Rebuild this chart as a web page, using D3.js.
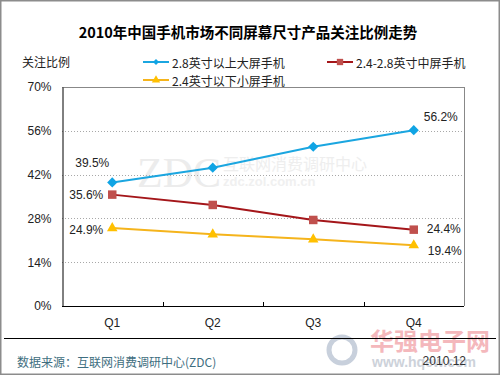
<!DOCTYPE html>
<html><head><meta charset="utf-8">
<script src="https://cdn.jsdelivr.net/npm/d3@7"></script>
<style>body{margin:0;background:#fff}svg{display:block}</style>
</head><body>
<script>
const categories = ["Q1","Q2","Q3","Q4"];
const bigScreen = [39.5, 44.2, 50.9, 56.2];
const midScreen = [35.6, 32.3, 27.5, 24.4];
const smallScreen = [24.9, 22.9, 21.3, 19.4];
const seriesNames = ["2.8英寸以上大屏手机","2.4-2.8英寸中屏手机","2.4英寸以下小屏手机"];
const yTicks = [0,14,28,42,56,70];
const title = "2010年中国手机市场不同屏幕尺寸产品关注比例走势";

const W=500,H=375;
const svg=d3.select("body").append("svg").attr("width",W).attr("height",H);
const cjk="'Noto Sans CJK SC','Liberation Sans',sans-serif";
const lat="'Liberation Sans',Arial,sans-serif";

svg.append("rect").attr("x",0.5).attr("y",0.5).attr("width",W-1).attr("height",H-1).attr("fill","#fff").attr("stroke","#8c8c8c").attr("stroke-width",2);

// watermarks
svg.append("text").attr("x",137).attr("y",187).attr("font-family","'Liberation Serif',serif").attr("font-size",42).attr("fill","#ececec").text("ZDC");
svg.append("text").attr("x",223).attr("y",170).attr("font-family",cjk).attr("font-size",16).attr("fill","#eeeeee").text("互联网消费调研中心");
svg.append("text").attr("x",223).attr("y",186).attr("font-family",lat).attr("font-size",13).attr("font-weight","bold").attr("fill","#f0f0f0").text("zdc.zol.com.cn");

const x0=62,x1=464,y0=87,y1=306;
const x=d3.scaleBand().domain(categories).range([x0,x1]);
const y=d3.scaleLinear().domain([0,70]).range([y1,y0]);

// gridlines
svg.append("g").selectAll("line").data(yTicks.filter(d=>d>0&&d<70)).join("line")
 .attr("x1",x0).attr("x2",x1).attr("y1",d=>Math.round(y(d))+0.5).attr("y2",d=>Math.round(y(d))+0.5)
 .attr("stroke","#a8a8a8").attr("stroke-dasharray","1,2");

// frame
svg.append("line").attr("x1",x0).attr("x2",x1).attr("y1",y0+0.5).attr("y2",y0+0.5).attr("stroke","#888");
svg.append("line").attr("x1",x1+0.5).attr("x2",x1+0.5).attr("y1",y0).attr("y2",y1).attr("stroke","#888");

// axes
const ya=svg.append("g").attr("transform",`translate(${x0+0.5},0)`)
 .call(d3.axisLeft(y).tickValues(yTicks).tickSize(0).tickPadding(11).tickFormat(d=>d+"%"));
ya.select(".domain").attr("stroke","#000");
ya.selectAll("text").attr("font-family",lat).attr("font-size",12).attr("fill","#222");
const xa=svg.append("g").attr("transform",`translate(0,${y1+0.5})`)
 .call(d3.axisBottom(x).tickSize(0).tickPadding(12));
xa.select(".domain").attr("stroke","#000").attr("d",`M${x0},0H${x1}`);
xa.selectAll("text").attr("font-family",lat).attr("font-size",12).attr("fill","#222");
svg.append("g").selectAll("line").data(categories.slice(1)).join("line")
 .attr("x1",d=>Math.round(x(d))+0.5).attr("x2",d=>Math.round(x(d))+0.5)
 .attr("y1",y1).attr("y2",y1-4).attr("stroke","#000");

const cx=d=>x(d)+x.bandwidth()/2;
const series=[
 {vals:bigScreen,line:"#1ba6e0",mark:"#10a4e4",shape:d3.symbolSquare,size:52,rot:45},
 {vals:midScreen,line:"#a4161a",mark:"#c0504d",shape:d3.symbolSquare,size:72,rot:0},
 {vals:smallScreen,line:"#f5b41c",mark:"#ffc000",shape:d3.symbolTriangle,size:48,rot:0}
];
const line=d3.line().x((d,i)=>cx(categories[i])).y(d=>y(d));
series.forEach(s=>{
 svg.append("path").attr("d",line(s.vals)).attr("fill","none").attr("stroke",s.line).attr("stroke-width",2);
 svg.append("g").selectAll("path").data(s.vals).join("path")
  .attr("transform",(d,i)=>`translate(${cx(categories[i])},${y(d)}) rotate(${s.rot})`)
  .attr("d",d3.symbol(s.shape,s.size)).attr("fill",s.mark);
});

// data labels
const lbl=(tx,ty,t,anchor)=>svg.append("text").attr("x",tx).attr("y",ty).attr("text-anchor",anchor)
 .attr("font-family",lat).attr("font-size",12).attr("fill","#222").attr("dominant-baseline","central").text(t);
lbl(cx("Q1")-3,y(bigScreen[0])-19,bigScreen[0].toFixed(1)+"%","end");
lbl(cx("Q1")-9,y(midScreen[0]),midScreen[0].toFixed(1)+"%","end");
lbl(cx("Q1")-9,y(smallScreen[0])+2,smallScreen[0].toFixed(1)+"%","end");
lbl(cx("Q4")+10,y(bigScreen[3])-13,bigScreen[3].toFixed(1)+"%","start");
lbl(cx("Q4")+13,y(midScreen[3])-1,midScreen[3].toFixed(1)+"%","start");
lbl(cx("Q4")+14,y(smallScreen[3])+6,smallScreen[3].toFixed(1)+"%","start");

// title
svg.append("text").attr("x",248).attr("y",38).attr("text-anchor","middle").attr("font-family",cjk)
 .attr("font-weight","bold").attr("font-size",14.5).attr("fill","#000").text(title);
svg.append("text").attr("x",22).attr("y",67).attr("font-family",cjk).attr("font-size",12).attr("fill","#222").text("关注比例");

// legend
const leg=[{x:143,y:62,s:series[0],sz:18},{x:327,y:62,s:series[1],sz:40},{x:143,y:80,s:series[2],sz:30}];
leg.forEach((l,i)=>{
 svg.append("line").attr("x1",l.x).attr("x2",l.x+26).attr("y1",l.y).attr("y2",l.y).attr("stroke",l.s.line).attr("stroke-width",2);
 svg.append("path").attr("transform",`translate(${l.x+13},${l.y}) rotate(${l.s.rot})`).attr("d",d3.symbol(l.s.shape,l.sz)).attr("fill",l.s.mark);
 svg.append("text").attr("x",l.x+29).attr("y",l.y).attr("dominant-baseline","central").attr("font-family",cjk)
  .attr("font-size",12).attr("fill","#222").text(seriesNames[i]);
});

// footer watermark
svg.append("circle").attr("cx",342).attr("cy",350).attr("r",13).attr("fill","none").attr("stroke","#c8d0dc").attr("stroke-width",5);
svg.append("text").attr("x",370).attr("y",350).attr("font-family",cjk).attr("font-weight","bold").attr("font-size",24).attr("fill","#f4b8bc").text("华强电子网");
svg.append("text").attr("x",372).attr("y",367).attr("font-family",lat).attr("font-weight","bold").attr("font-size",14).attr("fill","#cdd2da").text("www.hqew.com");

svg.append("line").attr("x1",4).attr("x2",496).attr("y1",338.5).attr("y2",338.5).attr("stroke","#000");
svg.append("text").attr("x",17).attr("y",361).attr("dominant-baseline","central").attr("font-family",cjk)
 .attr("font-size",12).attr("fill","#3e6e80").text("数据来源：互联网消费调研中心(ZDC)");
svg.append("text").attr("x",466).attr("y",361).attr("text-anchor","end").attr("dominant-baseline","central").attr("font-family",lat)
 .attr("font-size",12).attr("fill","#333").text("2010.12");
</script>
</body></html>
